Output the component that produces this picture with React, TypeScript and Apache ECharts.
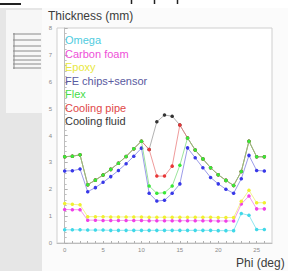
import React, { useEffect, useRef } from "react";
import * as echarts from "echarts";

const phi = [0, 1, 2, 3, 4, 5, 6, 7, 8, 9, 10, 11, 12, 13, 14, 15, 16, 17, 18, 19, 20, 21, 22, 23, 24, 25, 26];
const omega = [0.49, 0.49, 0.49, 0.48, 0.48, 0.48, 0.47, 0.47, 0.47, 0.47, 0.47, 0.47, 0.47, 0.47, 0.47, 0.47, 0.47, 0.47, 0.47, 0.47, 0.46, 0.46, 0.46, 1.1, 1.03, 0.5, 0.5];
const carbonFoam = [1.25, 1.24, 1.24, 0.85, 0.85, 0.84, 0.84, 0.84, 0.84, 0.84, 0.84, 0.83, 0.83, 0.83, 0.83, 0.83, 0.83, 0.83, 0.83, 0.83, 0.82, 0.82, 0.82, 1.45, 1.75, 1.27, 1.27];
const epoxy = [1.47, 1.44, 1.42, 0.98, 0.98, 0.98, 0.97, 0.97, 0.97, 0.97, 0.97, 0.96, 0.96, 0.96, 0.96, 0.96, 0.96, 0.96, 0.96, 0.96, 0.95, 0.95, 0.95, 1.55, 1.96, 1.5, 1.5];
const feChips = [2.68, 2.69, 2.75, 1.91, 2.06, 2.26, 2.47, 2.7, 2.95, 3.23, 3.53, 1.85, 1.56, 1.59, 1.85, 2.2, 3.54, 3.17, 2.8, 2.44, 2.2, 2.0, 1.85, 2.39, 3.26, 2.7, 2.68];
const flex = [3.21, 3.23, 3.28, 2.17, 2.34, 2.53, 2.74, 2.97, 3.22, 3.51, 3.79, 2.12, 1.85, 1.87, 2.12, 2.89, 3.91, 3.46, 3.13, 2.8, 2.54, 2.33, 2.14, 2.66, 3.79, 3.21, 3.21];
const coolingPipe = [3.21, 3.23, 3.28, 2.17, 2.34, 2.53, 2.74, 2.97, 3.22, 3.51, 3.79, 3.48, 2.49, 2.49, 2.86, 4.39, 3.91, 3.46, 3.13, 2.8, 2.54, 2.33, 2.14, 2.66, 3.79, 3.21, 3.21];
const coolingFluid = [3.21, 3.23, 3.28, 2.17, 2.34, 2.53, 2.74, 2.97, 3.22, 3.51, 3.79, 3.48, 4.51, 4.76, 4.72, 4.39, 3.91, 3.46, 3.13, 2.8, 2.54, 2.33, 2.14, 2.66, 3.79, 3.21, 3.21];

const legendNames = ["Omega", "Carbon foam", "Epoxy", "FE chips+sensor", "Flex", "Cooling pipe", "Cooling fluid"];
const markerColors = ["#40d8e8", "#f040e8", "#f0f030", "#3838e8", "#38e838", "#e83838", "#333333"];
const lineColors = ["#60dce8", "#ee70e8", "#eeee60", "#7070e0", "#70d870", "#e87070", "#909090"];
const textColors = ["#50cce0", "#ee50d8", "#e8e840", "#5a5aa0", "#48dc48", "#e04848", "#383838"];
const xLabelValues = [0, 5, 10, 15, 20, 25];

const App: React.FC = () => {
  const ref = useRef<HTMLDivElement>(null);

  useEffect(() => {
    if (!ref.current) return;
    const chart = echarts.init(ref.current, undefined, { renderer: "svg" });
    const datasets = [omega, carbonFoam, epoxy, feChips, flex, coolingPipe, coolingFluid];
    const font = "Liberation Sans, Arial, sans-serif";

    const mk = (idx: number, z: number) => ({
      name: legendNames[idx],
      type: "line",
      data: phi.map((p, i) => [p, datasets[idx][i]]),
      symbol: "circle",
      symbolSize: 3.5,
      z,
      itemStyle: { color: markerColors[idx] },
      lineStyle: { color: lineColors[idx], width: 1, opacity: 0.7 },
    });

    const fragLines = [34, 40, 46, 51, 56, 60, 64, 68].map((y) => ({
      type: "line",
      z: -5,
      shape: { x1: 13, y1: y, x2: 41, y2: y },
      style: { stroke: "#8a8a8a", lineWidth: 1 },
    }));

    chart.setOption({
      animation: false,
      backgroundColor: "#ffffff",
      grid: {
        left: 57,
        top: 28,
        width: 215,
        height: 215,
        show: true,
        backgroundColor: "#ffffff",
        borderColor: "#cfcfcf",
        borderWidth: 1,
      },
      xAxis: {
        type: "value",
        min: -1,
        max: 27,
        splitLine: { show: false },
        axisLine: { show: true, lineStyle: { color: "#bdbdbd" } },
        axisTick: {
          show: true,
          inside: true,
          length: 2,
          customValues: phi,
          lineStyle: { color: "#b0b0b0" },
        },
        axisLabel: {
          customValues: xLabelValues,
          fontSize: 6,
          color: "#8a8a8a",
          margin: 4,
          fontFamily: font,
        },
      },
      yAxis: {
        type: "value",
        min: 0,
        max: 8,
        interval: 1,
        splitLine: { show: false },
        axisLine: { show: true, lineStyle: { color: "#bdbdbd" } },
        axisTick: { show: true, inside: true, length: 3, lineStyle: { color: "#b0b0b0" } },
        minorTick: { show: true, splitNumber: 5, length: 2, lineStyle: { color: "#c0c0c0" } },
        axisLabel: { fontSize: 6, color: "#8a8a8a", margin: 5, fontFamily: font },
      },
      graphic: [
        { type: "rect", z: -10, shape: { x: 0, y: 8, width: 42, height: 263 }, style: { fill: "#e6e6e6" } },
        { type: "rect", z: -9, shape: { x: 6, y: 10, width: 36, height: 103 }, style: { fill: "#f7f7f7" } },
        { type: "rect", z: -9, shape: { x: 42, y: 8, width: 246, height: 263 }, style: { fill: "#fbfbfb" } },
        ...fragLines,
        { type: "line", z: -5, shape: { x1: 14, y1: 33, x2: 14, y2: 69 }, style: { stroke: "#8a8a8a", lineWidth: 1 } },
        { type: "rect", z: -5, shape: { x: 0, y: 3, width: 21, height: 2 }, style: { fill: "#222" } },
        { type: "line", z: -5, shape: { x1: 131.5, y1: 0, x2: 131.5, y2: 4 }, style: { stroke: "#222", lineWidth: 1.5 } },
        { type: "line", z: -5, shape: { x1: 154.5, y1: 0, x2: 154.5, y2: 4 }, style: { stroke: "#222", lineWidth: 1.5 } },
        { type: "line", z: -5, shape: { x1: 177.5, y1: 0, x2: 177.5, y2: 4 }, style: { stroke: "#222", lineWidth: 1.5 } },
        {
          type: "text",
          z: 10,
          x: 48,
          y: 16,
          style: { text: "Thickness (mm)", fill: "#3c3c3c", fontSize: 12, fontFamily: font, textVerticalAlign: "middle" },
        },
        {
          type: "text",
          z: 10,
          x: 236,
          y: 263,
          style: { text: "Phi (deg)", fill: "#3c3c3c", fontSize: 12, fontFamily: font, textVerticalAlign: "middle" },
        },
        ...legendNames.map((n, i) => ({
          type: "text",
          z: 10,
          x: 65,
          y: 40 + i * 13.5,
          style: { text: n, fill: textColors[i], fontSize: 11, fontFamily: font, textVerticalAlign: "middle" },
        })),
      ],
      series: [mk(6, 2), mk(5, 3), mk(0, 4), mk(1, 5), mk(2, 6), mk(3, 7), mk(4, 8)],
    });

    return () => chart.dispose();
  }, []);

  return (
    <div
      ref={ref}
      style={{ position: "absolute", left: 0, top: 0, width: 288, height: 271 }}
    />
  );
};

export default App;
